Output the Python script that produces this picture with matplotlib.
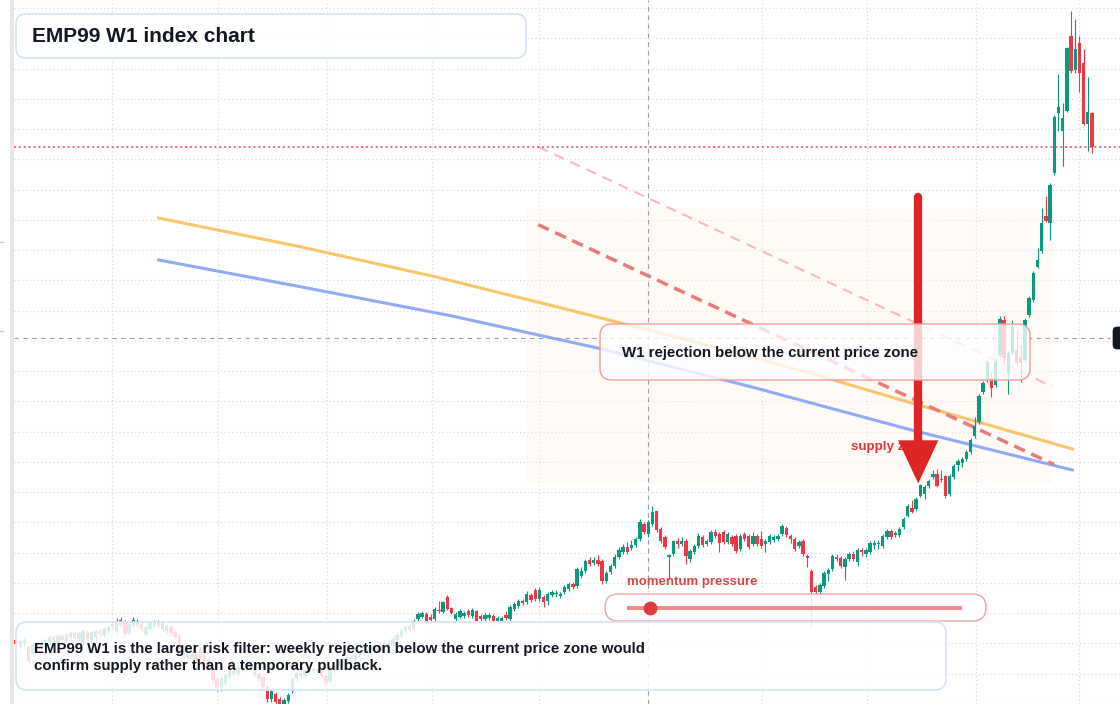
import matplotlib
matplotlib.use("Agg")
import numpy as np
import matplotlib.pyplot as plt
from matplotlib.patches import FancyBboxPatch, Rectangle
from matplotlib.lines import Line2D

plt.rcParams['font.family'] = ['Liberation Sans', 'DejaVu Sans']

# weekly candles, oldest first
opens = [
    1359, 1352, 1355, 1352, 1345, 1352, 1356, 1352, 1357, 1362,
    1356, 1363, 1358, 1362, 1366, 1360, 1357, 1367, 1359, 1362,
    1368, 1364, 1368, 1375, 1368, 1379, 1377, 1366, 1374, 1378,
    1375, 1365, 1370, 1374, 1377, 1370, 1368, 1372, 1367, 1363,
    1342, 1346, 1340, 1345, 1350, 1344, 1340, 1332, 1320, 1312,
    1316, 1322, 1328, 1325, 1330, 1334, 1330, 1332, 1325, 1322,
    1312, 1300, 1305, 1300, 1293, 1298, 1308, 1320, 1326, 1323,
    1327, 1330, 1327, 1330, 1323, 1318, 1328, 1333, 1338, 1335,
    1342, 1339, 1344, 1348, 1345, 1349, 1352, 1348, 1353, 1356,
    1354, 1359, 1363, 1368, 1373, 1370,
    1380, 1382, 1385, 1382, 1380, 1389, 1387, 1402, 1391, 1380,
    1382, 1383, 1388, 1383, 1388, 1383, 1380, 1381, 1383, 1378,
    1378, 1384, 1380, 1390, 1393, 1398, 1397, 1404, 1409, 1400,
    1402, 1398, 1404, 1405, 1403, 1407, 1410, 1415, 1413, 1423,
    1428, 1439, 1436, 1439, 1438, 1418, 1427, 1433, 1442, 1447,
    1452, 1451, 1454, 1460, 1475, 1465, 1475, 1488, 1470, 1462,
    1442, 1445, 1458, 1455, 1458, 1440, 1447, 1453, 1462, 1455,
    1457, 1467, 1465, 1467, 1457, 1462, 1463, 1450, 1465, 1463,
    1455, 1463, 1460, 1455, 1457, 1459, 1460, 1465, 1471, 1463,
    1460, 1453, 1458, 1443, 1428, 1412, 1407, 1413, 1425, 1430,
    1442, 1441, 1432, 1440, 1445, 1437, 1449, 1445, 1447, 1454,
    1455, 1453, 1462, 1468, 1464, 1464, 1472, 1483, 1491, 1490,
    1503, 1505, 1513, 1522, 1525, 1519, 1523, 1505, 1522, 1534,
    1536, 1540, 1547, 1563, 1577, 1607, 1620, 1622, 1615, 1645,
    1680, 1627, 1647, 1650, 1643, 1640, 1685, 1700, 1733, 1749,
    1784, 1777, 1827, 1887, 1869, 1889, 1964, 1930, 1957, 1937,
    1876, 1887,
]
closes = [
    1355, 1358, 1359, 1338, 1354, 1356, 1352, 1359, 1362, 1357,
    1363, 1359, 1364, 1366, 1361, 1366, 1368, 1360, 1367, 1368,
    1365, 1370, 1372, 1372, 1378, 1374, 1365, 1375, 1379, 1374,
    1370, 1372, 1376, 1377, 1373, 1376, 1373, 1366, 1362, 1347,
    1348, 1342, 1345, 1340, 1342, 1338, 1332, 1319, 1311, 1321,
    1324, 1328, 1325, 1332, 1334, 1331, 1335, 1324, 1320, 1312,
    1300, 1308, 1297, 1291, 1299, 1304, 1320, 1326, 1323, 1328,
    1330, 1328, 1330, 1323, 1316, 1330, 1334, 1338, 1335, 1342,
    1339, 1345, 1348, 1345, 1350, 1352, 1348, 1354, 1356, 1353,
    1360, 1364, 1369, 1372, 1369, 1378,
    1385, 1386, 1377, 1379, 1390, 1388, 1397, 1390, 1386, 1385,
    1388, 1386, 1384, 1389, 1378, 1380, 1384, 1384, 1378, 1381,
    1381, 1381, 1392, 1395, 1398, 1396, 1405, 1399, 1400, 1409,
    1397, 1405, 1407, 1406, 1405, 1412, 1415, 1412, 1430, 1428,
    1438, 1435, 1439, 1435, 1418, 1426, 1433, 1442, 1449, 1452,
    1447, 1454, 1460, 1477, 1467, 1477, 1487, 1469, 1458, 1452,
    1444, 1458, 1455, 1458, 1443, 1448, 1453, 1463, 1454, 1458,
    1467, 1463, 1456, 1457, 1465, 1455, 1448, 1463, 1460, 1452,
    1463, 1455, 1453, 1458, 1463, 1462, 1463, 1473, 1464, 1460,
    1450, 1457, 1445, 1441, 1407, 1407, 1414, 1426, 1429, 1443,
    1440, 1433, 1440, 1445, 1440, 1449, 1447, 1449, 1456, 1456,
    1456, 1463, 1468, 1462, 1466, 1470, 1480, 1493, 1487, 1500,
    1514, 1512, 1518, 1525, 1513, 1520, 1503, 1523, 1533, 1538,
    1540, 1547, 1559, 1573, 1603, 1617, 1638, 1612, 1638, 1681,
    1642, 1647, 1673, 1637, 1637, 1680, 1702, 1727, 1740, 1777,
    1779, 1815, 1883, 1893, 1882, 1952, 1929, 1951, 1927, 1876,
    1888, 1853,
]
highs = [
    1362, 1360, 1361, 1354, 1356, 1358, 1358, 1361, 1364, 1364,
    1365, 1365, 1366, 1368, 1368, 1368, 1370, 1369, 1369, 1370,
    1371, 1372, 1374, 1378, 1381, 1382, 1379, 1377, 1382, 1380,
    1377, 1374, 1378, 1379, 1379, 1378, 1375, 1374, 1369, 1365,
    1350, 1348, 1347, 1347, 1352, 1346, 1342, 1334, 1322, 1323,
    1326, 1330, 1331, 1334, 1336, 1337, 1337, 1334, 1327, 1324,
    1314, 1310, 1307, 1302, 1301, 1306, 1322, 1328, 1329, 1330,
    1332, 1332, 1332, 1332, 1325, 1332, 1336, 1340, 1341, 1344,
    1345, 1347, 1350, 1351, 1352, 1354, 1355, 1356, 1358, 1359,
    1362, 1366, 1371, 1374, 1375, 1380,
    1387, 1388, 1387, 1385, 1392, 1398, 1398, 1404, 1392, 1387,
    1390, 1388, 1390, 1391, 1389, 1385, 1386, 1386, 1385, 1383,
    1383, 1388, 1394, 1397, 1400, 1400, 1408, 1406, 1411, 1412,
    1404, 1407, 1409, 1409, 1407, 1414, 1417, 1417, 1432, 1432,
    1440, 1442, 1442, 1444, 1440, 1428, 1435, 1445, 1452, 1455,
    1457, 1459, 1462, 1480, 1477, 1479, 1493, 1489, 1472, 1464,
    1445, 1459, 1461, 1462, 1460, 1450, 1455, 1466, 1464, 1460,
    1469, 1470, 1467, 1469, 1467, 1464, 1465, 1465, 1467, 1465,
    1467, 1465, 1468, 1460, 1465, 1464, 1465, 1475, 1473, 1465,
    1462, 1459, 1460, 1445, 1430, 1414, 1416, 1428, 1431, 1445,
    1445, 1443, 1442, 1447, 1448, 1451, 1451, 1451, 1458, 1459,
    1459, 1465, 1470, 1470, 1468, 1472, 1482, 1495, 1499, 1502,
    1515, 1514, 1520, 1529, 1530, 1529, 1524, 1525, 1535, 1540,
    1542, 1549, 1561, 1582, 1605, 1619, 1640, 1628, 1640, 1684,
    1684, 1649, 1680, 1670, 1655, 1682, 1704, 1729, 1752, 1792,
    1804, 1817, 1885, 1926, 1897, 1953, 1989, 1981, 1964, 1951,
    1923, 1888,
]
lows = [
    1352, 1350, 1353, 1336, 1343, 1350, 1350, 1350, 1355, 1355,
    1354, 1357, 1356, 1360, 1359, 1358, 1355, 1358, 1357, 1360,
    1363, 1362, 1366, 1370, 1366, 1372, 1363, 1364, 1372, 1372,
    1368, 1363, 1368, 1372, 1371, 1368, 1366, 1364, 1360, 1345,
    1340, 1340, 1338, 1338, 1340, 1336, 1330, 1317, 1308, 1308,
    1314, 1320, 1323, 1323, 1328, 1329, 1328, 1322, 1318, 1310,
    1297, 1297, 1295, 1288, 1290, 1296, 1306, 1318, 1321, 1321,
    1325, 1326, 1325, 1321, 1314, 1316, 1326, 1331, 1333, 1333,
    1337, 1337, 1342, 1343, 1343, 1347, 1346, 1346, 1351, 1351,
    1352, 1357, 1361, 1366, 1367, 1368,
    1378, 1381, 1375, 1375, 1378, 1386, 1386, 1389, 1385, 1378,
    1381, 1381, 1382, 1381, 1376, 1378, 1378, 1379, 1374, 1376,
    1376, 1379, 1378, 1388, 1391, 1394, 1395, 1397, 1398, 1398,
    1392, 1394, 1402, 1402, 1401, 1405, 1408, 1410, 1411, 1421,
    1426, 1433, 1434, 1433, 1415, 1416, 1425, 1431, 1440, 1445,
    1445, 1449, 1452, 1458, 1465, 1462, 1473, 1467, 1456, 1450,
    1420, 1443, 1451, 1453, 1435, 1437, 1445, 1451, 1452, 1453,
    1455, 1461, 1447, 1455, 1455, 1453, 1446, 1448, 1458, 1450,
    1453, 1453, 1451, 1447, 1455, 1457, 1458, 1463, 1462, 1456,
    1448, 1451, 1443, 1432, 1372, 1405, 1400, 1411, 1418, 1428,
    1438, 1431, 1419, 1438, 1438, 1433, 1443, 1442, 1445, 1450,
    1450, 1451, 1460, 1460, 1462, 1462, 1470, 1482, 1486, 1488,
    1502, 1500, 1511, 1520, 1512, 1517, 1501, 1503, 1520, 1528,
    1532, 1538, 1545, 1561, 1575, 1605, 1618, 1602, 1613, 1643,
    1638, 1605, 1645, 1635, 1618, 1638, 1683, 1698, 1732, 1747,
    1778, 1760, 1825, 1869, 1834, 1888, 1927, 1927, 1908, 1875,
    1849, 1847,
]

# two projected averages (bar index, level)
orange_x = [33.7, 67.8, 100, 129.9, 160, 190, 214.3, 252.7]
orange_y = [1782, 1753, 1723, 1692, 1660, 1626, 1596, 1550]
blue_x = [33.7, 67.8, 103.7, 139.5, 175.3, 214.3, 252.7]
blue_y = [1740, 1713, 1684, 1651, 1613, 1569, 1529]

title = "EMP99 W1 index chart"
note = ("EMP99 W1 is the larger risk filter: weekly rejection below the current price zone would\n"
        "confirm supply rather than a temporary pullback.")
zone_text = "W1 rejection below the current price zone"

GREEN = '#089981'
RED = '#f23645'
INK = '#131722'

W, H = 1120, 704
fig = plt.figure(figsize=(W / 100, H / 100), dpi=100)
ax = fig.add_axes([14 / W, 0, (W - 14) / W, 1])
ax.set_xlim(-0.5, 263.7)
ax.set_ylim(1296, 2000)
for s in ax.spines.values():
    s.set_visible(False)

# grid
ax.set_xticks([23.0, 48.2, 74.3, 99.4, 124.9, 150.9, 178.2, 203.3, 229.3, 253.9])
ax.set_yticks(np.arange(1992, 1290, -30.3))
ax.tick_params(length=0, labelleft=False, labelbottom=False)
ax.grid(True, color='#d3d6dc', lw=0.8, ls=(0, (1, 2.5)), zorder=0)
ax.set_axisbelow(True)

# zone shading
ax.add_patch(Rectangle((122, 1516), 125.5, 276, facecolor='#fdf0e2', alpha=0.3, lw=0, zorder=1))

# averages and rejection lines
ax.plot(orange_x, orange_y, color='#f8c46c', lw=2.2, zorder=2, solid_capstyle='butt')
ax.plot(blue_x, blue_y, color='#90abf4', lw=2.2, zorder=2, solid_capstyle='butt')
ax.plot([124.7, 247.5], [1853, 1613], color='#f6baba', lw=1.5, ls=(0, (5, 3.5)), zorder=2)
ax.plot([124.7, 247.9], [1775, 1535], color='#ea7b7b', lw=2.5, ls=(0, (3.4, 2)), zorder=2)

# crosshair
ax.axvline(151, color='#9a9da5', lw=0.8, ls=(0, (4, 4)), zorder=2.5)
ax.plot([-0.5, 261.3], [1662, 1662], color='#9a9da5', lw=0.8, ls=(0, (4, 4)), zorder=2.5)

# candles
o = np.array(opens, float)
c = np.array(closes, float)
x = np.arange(len(o))
col = np.where(c >= o, GREEN, RED)
ax.vlines(x, lows, highs, colors=col, lw=0.8, zorder=3)
body = np.maximum(np.abs(c - o), 1.2)
ax.bar(x, body, bottom=np.minimum(o, c), width=0.8, color=col, lw=0, zorder=3.1)

# last price line
ax.axhline(closes[-1], color=RED, lw=1.1, ls=(0, (1.2, 2)), zorder=3.5)

# supply arrow
ax.text(199.4, 1552, "supply zone", color='#e03333', fontsize=9.6, fontweight='bold',
        va='center', ha='left', zorder=4)
ax.plot([215.5, 215.5], [1803, 1555], color='#dc2626', lw=6, solid_capstyle='round', zorder=5)
ax.annotate("", xy=(215.5, 1516), xytext=(215.5, 1562),
            arrowprops=dict(arrowstyle="simple,head_length=3.1,head_width=2.9,tail_width=0.5",
                            color='#dc2626', lw=0, shrinkA=0, shrinkB=0, mutation_scale=10),
            zorder=5)


def fx(v):
    return v / W


def fy(v):
    return 1 - v / H


def px_box(x0, y0, x1, y1, r, fc, ec, lw, z):
    p = FancyBboxPatch((fx(x0), fy(y1)), (x1 - x0) / W, (y1 - y0) / H,
                       boxstyle="round,pad=0,rounding_size=%f" % (r / W),
                       mutation_aspect=W / H, transform=fig.transFigure,
                       facecolor=fc, edgecolor=ec, lw=lw, zorder=z)
    fig.add_artist(p)


# left strip
fig.add_artist(Rectangle((fx(10), 0), 4 / W, 1, transform=fig.transFigure,
                         facecolor='#e8e8e8', lw=0, zorder=5))
for yy in [242, 331]:
    fig.add_artist(Line2D([0, fx(3)], [fy(yy), fy(yy)], color='#c8c8c8', lw=0.8, zorder=5))

# rejection box
px_box(600, 324, 1030, 380, 12, (1, 1, 1, 0.78), '#ef9c9c', 1.0, 6)
fig.text(fx(622), fy(353), zone_text, fontsize=10.8, fontweight='bold', color=INK,
         va='center', ha='left', zorder=7)

# momentum pill
fig.text(fx(627), fy(582), "momentum pressure", fontsize=9.5, fontweight='bold',
         color='#e04343', va='center', ha='left', zorder=7)
px_box(605, 594, 986, 621, 13.5, (1, 1, 1, 0.85), '#f0a2a2', 1.0, 6)
fig.add_artist(Line2D([fx(627), fx(962)], [fy(608), fy(608)], color='#ee8b8b', lw=2.9,
                      solid_capstyle='butt', zorder=7))
fig.add_artist(Line2D([fx(650)], [fy(608)], marker='o', ms=10, color='#e03b3b',
                      markeredgewidth=0, zorder=8))

# note box
px_box(16, 622, 946, 690, 11, (1, 1, 1, 0.84), '#d6e3f6', 1.2, 6)
fig.text(fx(34), fy(657.5), note, fontsize=10.8, fontweight='bold', color=INK,
         va='center', ha='left', linespacing=1.27, zorder=7)

# title box
px_box(16, 14, 526, 58, 10, (1, 1, 1, 0.95), '#d6e3f6', 1.2, 8)
fig.text(fx(32), fy(36), title, fontsize=15, fontweight='bold', color=INK,
         va='center', ha='left', zorder=9)

# crosshair price tag at right edge
px_box(1113, 327, 1150, 349, 4, '#131722', '#131722', 0.5, 8)

fig.savefig("out.png", dpi=100)
